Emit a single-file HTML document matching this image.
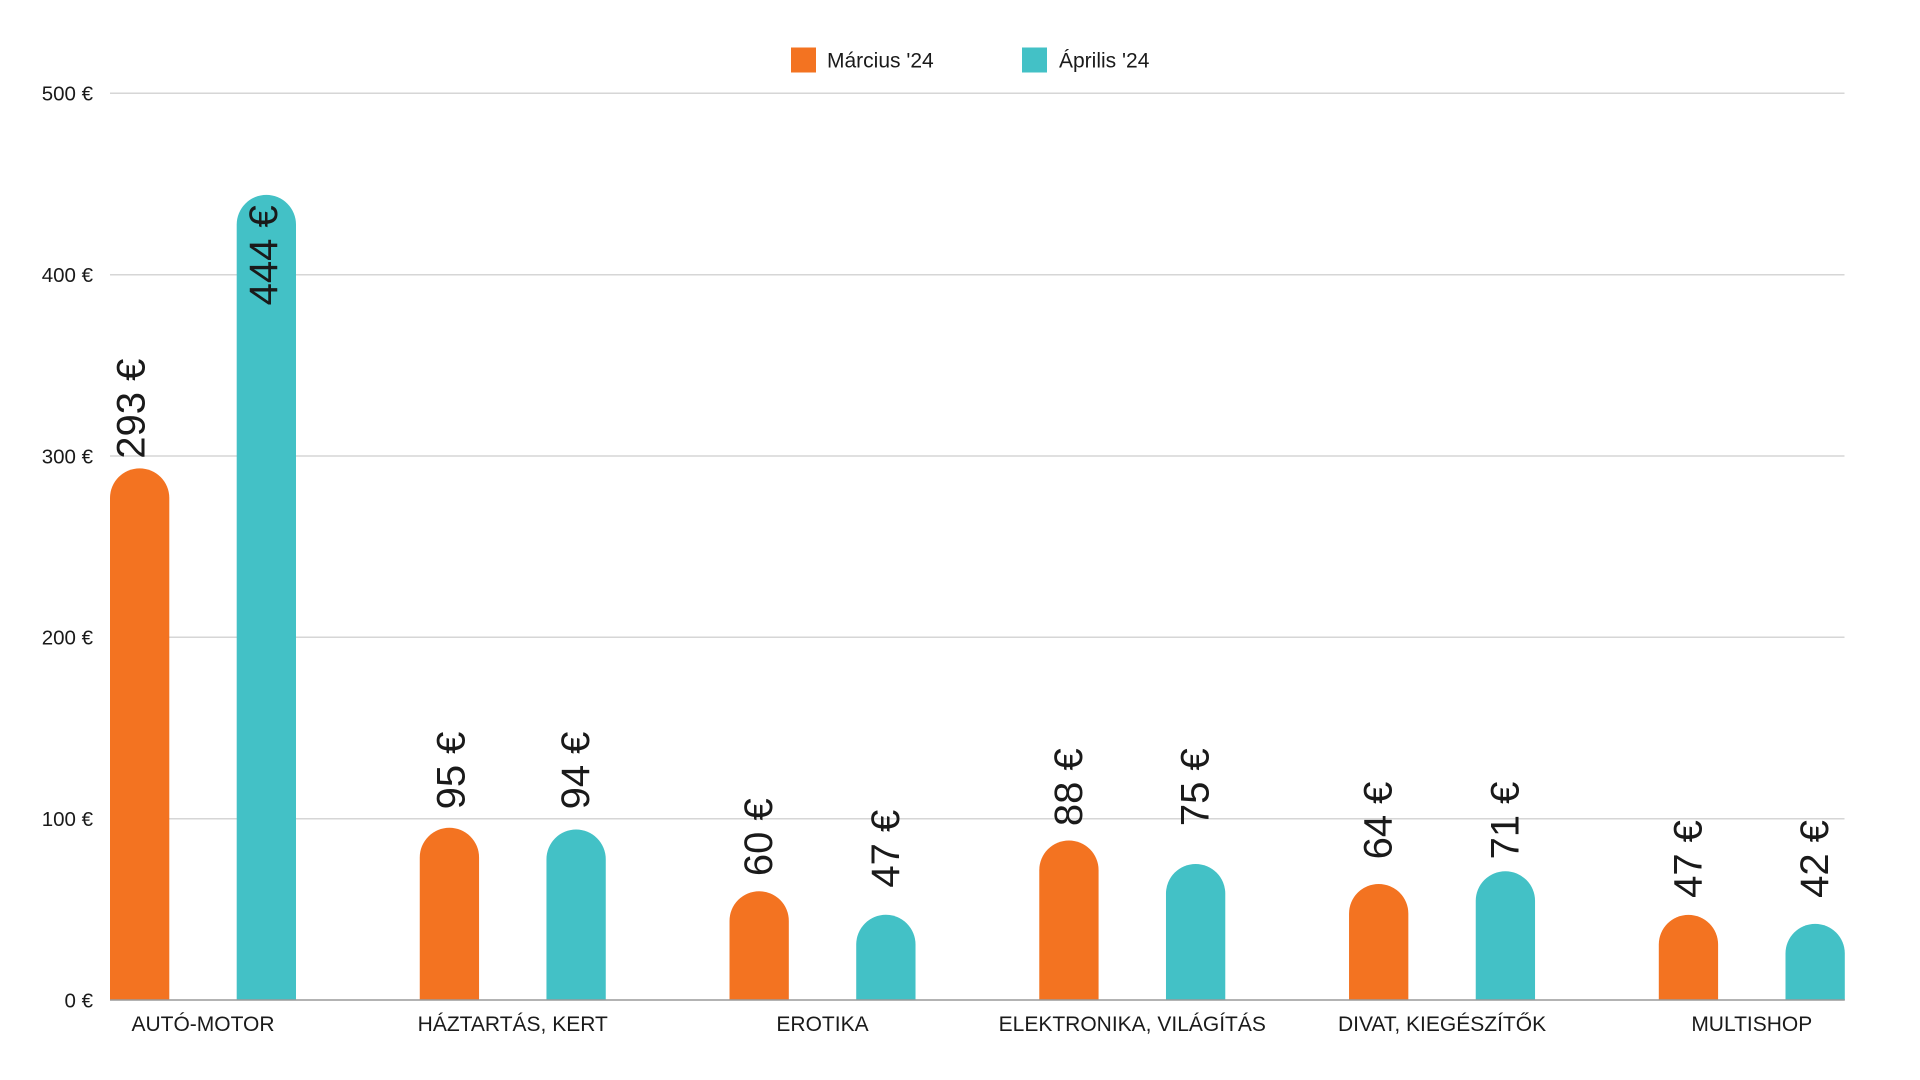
<!DOCTYPE html>
<html>
<head>
<meta charset="utf-8">
<style>
  html, body { margin:0; padding:0; background:#fff; }
  body { width:1920px; height:1080px; overflow:hidden; }
  svg { display:block; }
  text { font-family: "Liberation Sans", Arial, sans-serif; fill:#1a1a1a; }
</style>
</head>
<body>
<svg width="1920" height="1080" viewBox="0 0 1920 1080" xmlns="http://www.w3.org/2000/svg">
  <!-- Legend -->
  <rect x="791" y="47.5" width="25" height="25" fill="#F37321"/>
  <text x="827" y="67.5" font-size="21">Március '24</text>
  <rect x="1022" y="47.5" width="25" height="25" fill="#43C1C6"/>
  <text x="1059" y="67.5" font-size="21">Április '24</text>

  <!-- Gridlines -->
  <g stroke="#d6d6d6" stroke-width="1.5">
    <line x1="110" y1="93.3" x2="1844.5" y2="93.3"/>
    <line x1="110" y1="274.7" x2="1844.5" y2="274.7"/>
    <line x1="110" y1="456" x2="1844.5" y2="456"/>
    <line x1="110" y1="637.3" x2="1844.5" y2="637.3"/>
    <line x1="110" y1="818.7" x2="1844.5" y2="818.7"/>
  </g>

  <!-- Y tick labels -->
  <g font-size="20.5" text-anchor="end">
    <text x="93" y="100.5">500 €</text>
    <text x="93" y="282">400 €</text>
    <text x="93" y="463.3">300 €</text>
    <text x="93" y="644.6">200 €</text>
    <text x="93" y="826">100 €</text>
    <text x="93" y="1007.3">0 €</text>
  </g>

  <!-- Bars -->
  <g fill="#F37321">
    <path d="M110,1000 V498 A29.65,29.65 0 0 1 169.3,498 V1000 Z"/>
    <path d="M419.76,1000 V857.4 A29.65,29.65 0 0 1 479.06,857.4 V1000 Z"/>
    <path d="M729.52,1000 V920.85 A29.65,29.65 0 0 1 788.82,920.85 V1000 Z"/>
    <path d="M1039.28,1000 V870.08 A29.65,29.65 0 0 1 1098.58,870.08 V1000 Z"/>
    <path d="M1349.04,1000 V913.6 A29.65,29.65 0 0 1 1408.34,913.6 V1000 Z"/>
    <path d="M1658.8,1000 V944.42 A29.65,29.65 0 0 1 1718.1,944.42 V1000 Z"/>
  </g>
  <g fill="#43C1C6">
    <path d="M236.7,1000 V224.55 A29.65,29.65 0 0 1 296,224.55 V1000 Z"/>
    <path d="M546.46,1000 V859.2 A29.65,29.65 0 0 1 605.76,859.2 V1000 Z"/>
    <path d="M856.22,1000 V944.42 A29.65,29.65 0 0 1 915.52,944.42 V1000 Z"/>
    <path d="M1165.98,1000 V893.65 A29.65,29.65 0 0 1 1225.28,893.65 V1000 Z"/>
    <path d="M1475.74,1000 V900.9 A29.65,29.65 0 0 1 1535.04,900.9 V1000 Z"/>
    <path d="M1785.5,1000 V953.5 A29.65,29.65 0 0 1 1844.8,953.5 V1000 Z"/>
  </g>

  <!-- Axis line -->
  <line x1="110" y1="1000" x2="1844.8" y2="1000" stroke="#9a9a9a" stroke-width="1.5"/>

  <!-- Value labels (rotated) -->
  <g font-size="40" text-anchor="middle" dominant-baseline="central">
    <text transform="translate(131.5,408.7) rotate(-90)">293 €</text>
    <text transform="translate(264,255.3) rotate(-90)">444 €</text>
    <text transform="translate(451.5,770.5) rotate(-90)">95 €</text>
    <text transform="translate(576.11,770.5) rotate(-90)">94 €</text>
    <text transform="translate(759.17,837.2) rotate(-90)">60 €</text>
    <text transform="translate(885.87,848.7) rotate(-90)">47 €</text>
    <text transform="translate(1068.93,787.2) rotate(-90)">88 €</text>
    <text transform="translate(1195.63,787.2) rotate(-90)">75 €</text>
    <text transform="translate(1378.69,820.5) rotate(-90)">64 €</text>
    <text transform="translate(1505.39,820.5) rotate(-90)">71 €</text>
    <text transform="translate(1688.45,859) rotate(-90)">47 €</text>
    <text transform="translate(1815.15,859) rotate(-90)">42 €</text>
  </g>

  <!-- Category labels -->
  <g font-size="21" text-anchor="middle">
    <text x="203" y="1031">AUTÓ-MOTOR</text>
    <text x="512.76" y="1031">HÁZTARTÁS, KERT</text>
    <text x="822.52" y="1031">EROTIKA</text>
    <text x="1132.28" y="1031">ELEKTRONIKA, VILÁGÍTÁS</text>
    <text x="1442.04" y="1031">DIVAT, KIEGÉSZÍTŐK</text>
    <text x="1751.8" y="1031">MULTISHOP</text>
  </g>
</svg>
</body>
</html>
